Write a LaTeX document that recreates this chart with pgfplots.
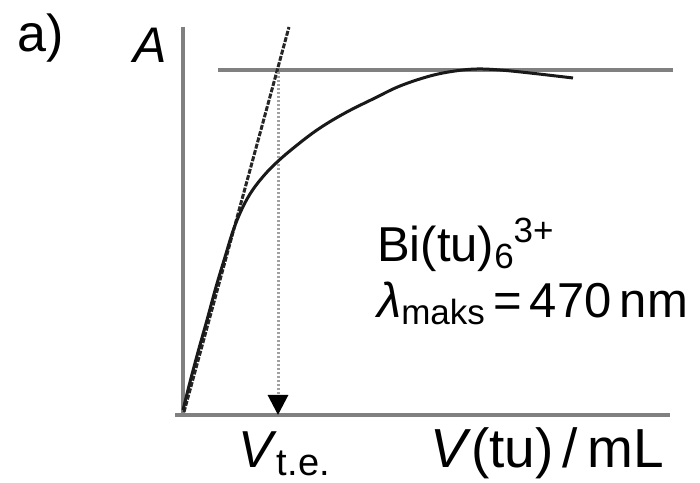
\documentclass[border=0pt]{standalone}
\usepackage{pgfplots}
\pgfplotsset{compat=1.18}
\usepackage{fontspec}
\setmainfont{Liberation Sans}
\usetikzlibrary{arrows.meta}
\definecolor{axgray}{RGB}{128,128,128}
\definecolor{dotgray}{RGB}{160,160,160}
\newcommand{\sub}[1]{\raisebox{-7bp}{\fontsize{35bp}{38bp}\selectfont #1}}
\newcommand{\sups}[1]{\raisebox{19bp}{\fontsize{35bp}{38bp}\selectfont #1}}
\begin{document}
\begin{tikzpicture}
\begin{axis}[
  at={(0,0)}, anchor=south west,
  scale only axis, width=700bp, height=483bp,
  xmin=0, xmax=700, ymin=0, ymax=483,
  hide axis, clip=false,
]
% axes
\addplot[axgray, line width=4bp] coordinates {(183,456) (183,68)};
\addplot[axgray, line width=4bp] coordinates {(175,68) (670,68)};
% plateau line
\addplot[axgray, line width=3.5bp] coordinates {(218,413) (673,413)};
% tangent
\addplot[black!85, line width=3bp, dash pattern=on 5bp off 1.5bp] coordinates {(184,71) (289,456)};
% dotted arrow
\addplot[dotgray, line width=3bp, dash pattern=on 2bp off 2bp, -{Triangle[black,width=20bp,length=20bp]}] coordinates {(278,411) (278,68)};
% titration curve
\addplot[black!90, line width=3bp, smooth, tension=0.6] coordinates {
(183,73) (190,101) (198,131) (207,163) (216,196) (225,226) (233,252)
(241,272) (250,289) (261,304) (274,318) (291,333) (317,353) (345,370) (375,385)
(400,397) (430,407) (455,412) (477,414) (500,413) (530,410) (573,405)};
% texts
\node[anchor=base west, inner sep=0, font=\fontsize{52bp}{60bp}\selectfont] at (axis cs:17,431) {a)};
\node[anchor=base west, inner sep=0, font=\fontsize{50bp}{60bp}\selectfont] at (axis cs:133,420) {\textit{A}};
\node[anchor=base west, inner sep=0, font=\fontsize{49bp}{60bp}\selectfont] at (axis cs:377,221) {Bi(tu)\sub{6}\sups{3+}};
\node[anchor=base west, inner sep=0, font=\fontsize{49bp}{60bp}\selectfont] at (axis cs:377,165) {\textit{λ}\sub{maks}\,=\,470\,nm};
\node[anchor=base west, inner sep=0, font=\fontsize{52bp}{60bp}\selectfont] at (axis cs:238,16) {\textit{V}\raisebox{-8bp}{\fontsize{38bp}{40bp}\selectfont t.e.}};
\node[anchor=base west, inner sep=0, font=\fontsize{55bp}{60bp}\selectfont] at (axis cs:430,16) {\textit{V}(tu)\,/\,mL};
\end{axis}
\pgfresetboundingbox
\path (0,0) rectangle (700bp,483bp);
\end{tikzpicture}
\end{document}
